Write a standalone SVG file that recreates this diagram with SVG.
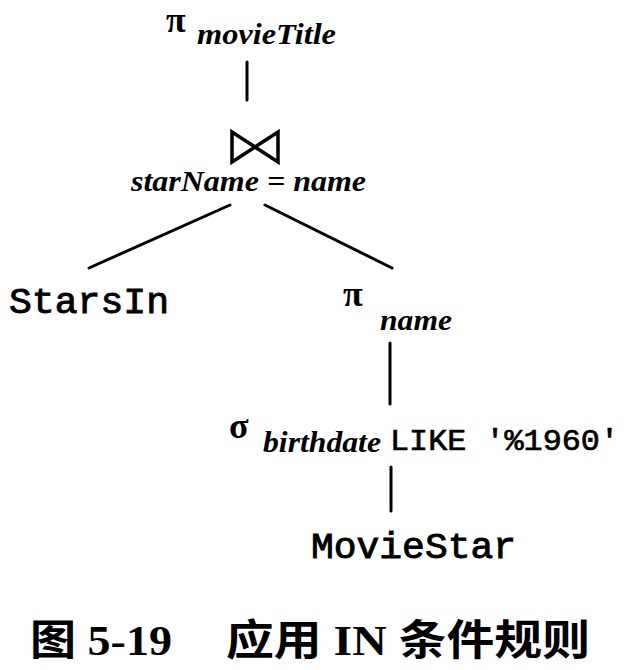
<svg xmlns="http://www.w3.org/2000/svg" width="628" height="670" viewBox="0 0 628 670">
<style>
.op{font-family:"Liberation Serif",serif;font-weight:bold;font-size:36px;fill:#000}
.it{font-family:"Liberation Serif",serif;font-style:italic;font-weight:bold;font-size:30px;fill:#000}
.mono{font-family:"Liberation Mono",monospace;font-size:36px;fill:#000;stroke:#000;stroke-width:0.9}
.monos{font-family:"Liberation Mono",monospace;font-size:30px;fill:#000;stroke:#000;stroke-width:0.7}
.cap{font-family:"Liberation Serif","Noto Sans CJK SC",serif;font-weight:bold;font-size:42px;fill:#000}
.ln{stroke:#000;stroke-width:3;fill:none;stroke-linecap:round}
</style>
<rect width="628" height="670" fill="#fff"/>
<g id="connectors">
<line class="ln" x1="247" y1="62" x2="247" y2="100"/>
<line class="ln" x1="230" y1="205" x2="89" y2="268"/>
<line class="ln" x1="265" y1="205" x2="392" y2="268"/>
<line class="ln" x1="390" y1="343" x2="390" y2="404"/>
<line class="ln" x1="391" y1="467" x2="391" y2="511"/>
</g>
<g id="proj-movieTitle">
<text class="op" x="166" y="32">π</text>
<text class="it" x="197" y="44" textLength="139" lengthAdjust="spacingAndGlyphs">movieTitle</text>
</g>
<g id="join">
<path d="M232,132 L232,162 L278,132 L278,162 Z" stroke="#000" stroke-width="3.5" fill="none" stroke-linejoin="miter"/>
<text class="it" x="131" y="191" textLength="235" lengthAdjust="spacingAndGlyphs">starName = name</text>
</g>
<g id="starsin">
<text class="mono" x="9" y="313" textLength="160" lengthAdjust="spacingAndGlyphs">StarsIn</text>
</g>
<g id="proj-name">
<text class="op" x="343" y="306">π</text>
<text class="it" x="380" y="330" textLength="72" lengthAdjust="spacingAndGlyphs">name</text>
</g>
<g id="select">
<text class="op" x="229" y="438">σ</text>
<text class="it" x="263" y="452" textLength="118" lengthAdjust="spacingAndGlyphs">birthdate</text>
<text class="monos" x="390" y="450" textLength="229" lengthAdjust="spacingAndGlyphs">LIKE '%1960'</text>
</g>
<g id="moviestar">
<text class="mono" x="311" y="558" textLength="205" lengthAdjust="spacingAndGlyphs">MovieStar</text>
</g>
<g id="caption">
<text class="cap" x="30" y="655" textLength="142" lengthAdjust="spacingAndGlyphs">图 5-19</text>
<text class="cap" x="226" y="655" textLength="364" lengthAdjust="spacingAndGlyphs">应用 IN 条件规则</text>
</g>
</svg>
